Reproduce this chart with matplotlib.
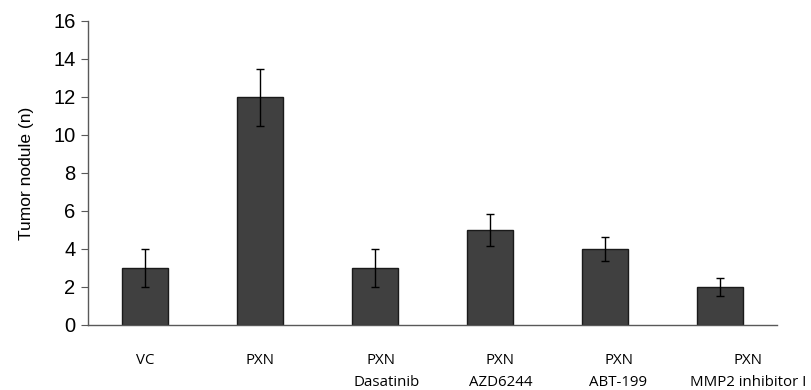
import matplotlib.pyplot as plt
import matplotlib.transforms as mtransforms

groups = ["VC", "PXN", "PXN", "PXN", "PXN", "PXN"]
drugs = ["", "", "Dasatinib", "AZD6244", "ABT-199", "MMP2 inhibitor I"]
means = [3, 12, 3, 5, 4, 2]
errors = [1.0, 1.5, 1.0, 0.85, 0.65, 0.45]


def main():
    fig = plt.figure(figsize=(8.11, 3.90), dpi=100)
    ax = fig.add_axes([88 / 811, 65 / 390, 689 / 811, 304 / 390])

    x = list(range(len(means)))
    ax.bar(x, means, width=0.4, color="#404040", edgecolor="#1a1a1a",
           linewidth=1.0, zorder=2)
    ax.errorbar(x, means, yerr=errors, fmt="none", ecolor="black",
                elinewidth=1.0, capsize=3, capthick=1.0, zorder=3)

    ax.set_xlim(-0.5, 5.5)
    ax.set_ylim(0, 16)
    ax.set_yticks(range(0, 17, 2))
    ax.set_xticks([])

    for side in ["top", "right"]:
        ax.spines[side].set_visible(False)
    for side in ["left", "bottom"]:
        ax.spines[side].set_color("#595959")
        ax.spines[side].set_linewidth(1.0)

    ax.tick_params(axis="y", direction="out", length=5, color="#595959",
                   labelsize=14.5, pad=4)
    for lbl in ax.get_yticklabels():
        lbl.set_fontfamily("Liberation Sans")

    ax.set_ylabel("Tumor nodule (n)", fontsize=12.5, family="Liberation Sans",
                  labelpad=14)

    # category labels drift right a little in the original
    shifts = [0.0, 0.0, 0.05, 0.09, 0.12, 0.25]
    trans = mtransforms.blended_transform_factory(ax.transData, fig.transFigure)
    for i in x:
        ax.text(i + shifts[i], 30 / 390, groups[i], transform=trans,
                ha="center", va="center", fontsize=10.8, family="Open Sans",
                clip_on=False)
        if drugs[i]:
            ax.text(i + shifts[i] + (0.05 if i == 2 else 0), 7 / 390, drugs[i],
                    transform=trans, ha="center", va="center", fontsize=10.8,
                    family="Open Sans", clip_on=False)

    fig.savefig("out.png", dpi=100)


if __name__ == "__main__":
    main()
